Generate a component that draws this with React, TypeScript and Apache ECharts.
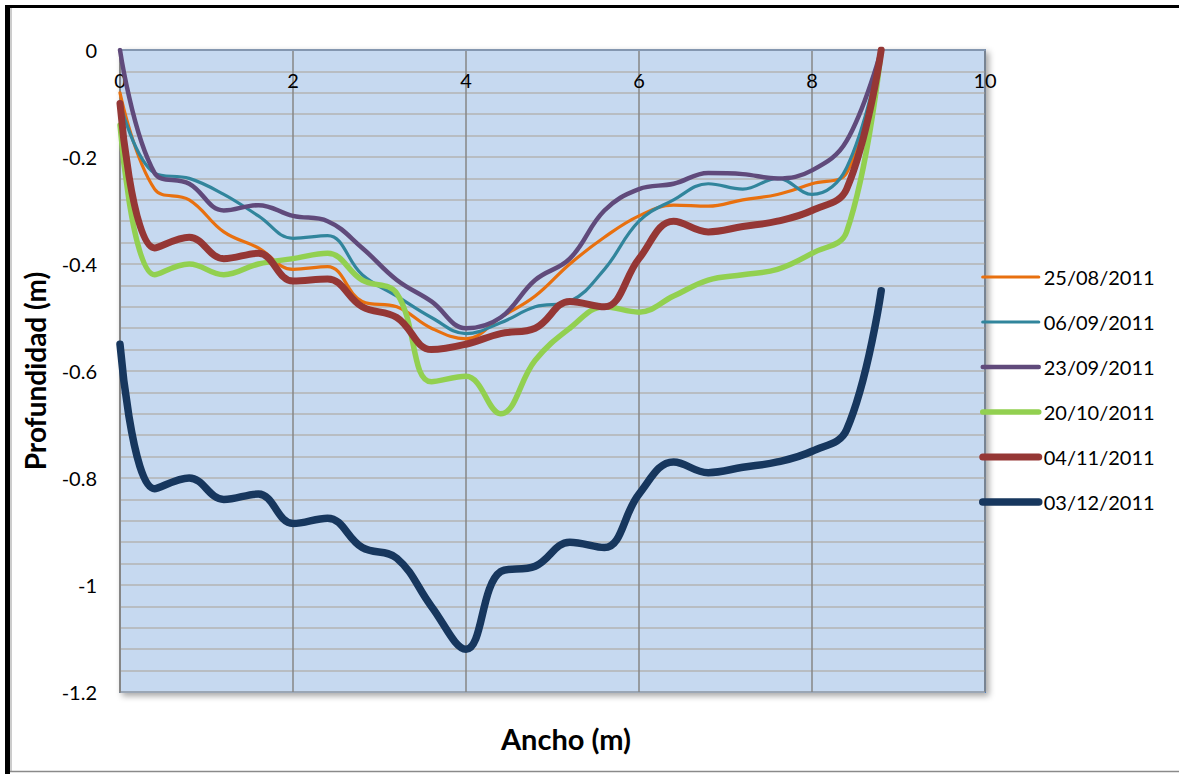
import React, { useEffect, useRef } from "react";
import * as echarts from "echarts";

// Distance across the channel (m)
const anchos = [0, 0.4, 0.8, 1.2, 1.6, 2.0, 2.4, 2.8, 3.2, 3.6, 4.0, 4.4, 4.8, 5.2, 5.6, 6.0, 6.4, 6.8, 7.2, 7.6, 8.0, 8.4, 8.8];

// Depth profiles (m) per survey date
const fechas = ["25/08/2011", "06/09/2011", "23/09/2011", "20/10/2011", "04/11/2011", "03/12/2011"];

const prof_25_08 = [-0.08, -0.26, -0.28, -0.34, -0.37, -0.41, -0.405, -0.47, -0.48, -0.52, -0.54, -0.5, -0.46, -0.4, -0.35, -0.31, -0.29, -0.292, -0.28, -0.27, -0.25, -0.23, 0];
const prof_06_09 = [-0.1, -0.23, -0.24, -0.27, -0.31, -0.352, -0.347, -0.42, -0.46, -0.5, -0.53, -0.51, -0.48, -0.47, -0.41, -0.32, -0.28, -0.25, -0.26, -0.24, -0.27, -0.22, 0];
const prof_23_09 = [0, -0.23, -0.25, -0.3, -0.29, -0.31, -0.32, -0.37, -0.43, -0.47, -0.52, -0.5, -0.43, -0.39, -0.3, -0.26, -0.25, -0.23, -0.232, -0.24, -0.225, -0.17, 0];
const prof_20_10 = [-0.14, -0.42, -0.4, -0.42, -0.4, -0.39, -0.38, -0.43, -0.455, -0.62, -0.61, -0.68, -0.58, -0.52, -0.48, -0.49, -0.46, -0.43, -0.42, -0.41, -0.38, -0.34, 0];
const prof_04_11 = [-0.1, -0.37, -0.35, -0.39, -0.38, -0.432, -0.428, -0.48, -0.5, -0.56, -0.55, -0.53, -0.52, -0.47, -0.48, -0.39, -0.32, -0.34, -0.33, -0.32, -0.3, -0.26, 0];
const prof_03_12 = [-0.55, -0.82, -0.8, -0.84, -0.83, -0.885, -0.875, -0.93, -0.95, -1.04, -1.12, -0.975, -0.965, -0.92, -0.93, -0.83, -0.77, -0.79, -0.78, -0.77, -0.75, -0.71, -0.45];

const perfiles = [prof_25_08, prof_06_09, prof_23_09, prof_20_10, prof_04_11, prof_03_12];
const colores = ["#e8700f", "#31859c", "#604a7b", "#92d050", "#953735", "#17375e"];
const grosores = [3.2, 3.2, 4.5, 5.5, 7, 7.5];

const FONT = "Lato, 'Open Sans', sans-serif";

export default function App() {
  const ref = useRef<HTMLDivElement>(null);

  useEffect(() => {
    if (!ref.current) return;
    const chart = echarts.init(ref.current, undefined, { renderer: "svg" });

    const series = perfiles.map((p, i) => ({
      name: fechas[i],
      type: "line",
      data: anchos.map((x, j) => [x, p[j]]),
      smooth: 0.4,
      symbol: "none",
      lineStyle: { color: colores[i], width: grosores[i], cap: "round", join: "round" },
      itemStyle: { color: colores[i] },
      z: 3 + i,
    }));

    chart.setOption({
      animation: false,
      backgroundColor: "#ffffff",
      grid: {
        left: 120,
        top: 50,
        right: 194,
        bottom: 82,
        show: true,
        backgroundColor: "#c6d9f0",
        borderColor: "#4f81bd",
        borderWidth: 2,
        shadowBlur: 6,
        shadowColor: "rgba(0,0,0,0.35)",
        shadowOffsetX: 3,
        shadowOffsetY: 3,
      },
      legend: {
        orient: "vertical",
        left: 974,
        top: 262,
        itemWidth: 56,
        itemHeight: 14,
        itemGap: 25,
        itemStyle: { opacity: 0 },
        lineStyle: { width: "inherit", cap: "round" },
        textStyle: { fontFamily: FONT, fontSize: 20, color: "#000" },
        data: fechas,
      },
      xAxis: {
        type: "value",
        position: "top",
        min: 0,
        max: 10,
        interval: 2,
        axisLine: { show: true, onZero: false, lineStyle: { color: "#8497b0", width: 2 } },
        axisTick: { show: false },
        axisLabel: { inside: true, margin: 20, fontFamily: FONT, fontSize: 20, color: "#000" },
        splitLine: { show: true, lineStyle: { color: "#868686", width: 1.5 } },
      },
      yAxis: {
        type: "value",
        min: -1.2,
        max: 0,
        interval: 0.2,
        axisLine: { show: true, onZero: false, lineStyle: { color: "#868686", width: 2 } },
        axisTick: { show: false },
        axisLabel: { margin: 23, fontFamily: FONT, fontSize: 20, color: "#000" },
        splitLine: { show: true, lineStyle: { color: "#b3b3b3", width: 1.5 } },
        minorTick: { show: false, splitNumber: 5 },
        minorSplitLine: { show: true, lineStyle: { color: "#b3b3b3", width: 1.5 } },
      },
      graphic: [
        { type: "rect", shape: { x: 5, y: 5, width: 1174, height: 3 }, style: { fill: "#000" } },
        { type: "rect", shape: { x: 5, y: 5, width: 5, height: 769 }, style: { fill: "#000" } },
        { type: "line", shape: { x1: 11, y1: 8, x2: 11, y2: 771 }, style: { stroke: "#9a9a9a", lineWidth: 1 } },
        { type: "line", shape: { x1: 10, y1: 771.5, x2: 1179, y2: 771.5 }, style: { stroke: "#8a8a8a", lineWidth: 1.5 } },
        {
          type: "text",
          x: 35,
          y: 371,
          rotation: Math.PI / 2,
          style: {
            text: "Profundidad (m)",
            fontFamily: FONT,
            fontWeight: "bold",
            fontSize: 28,
            fill: "#000",
            align: "center",
            verticalAlign: "middle",
          },
        },
        {
          type: "text",
          x: 566,
          y: 738,
          style: {
            text: "Ancho (m)",
            fontFamily: FONT,
            fontWeight: "bold",
            fontSize: 29,
            fill: "#000",
            align: "center",
            verticalAlign: "middle",
          },
        },
      ],
      series,
    });

    return () => chart.dispose();
  }, []);

  return (
    <div
      ref={ref}
      style={{ position: "fixed", left: 0, top: 0, width: 1179, height: 774, background: "#fff" }}
    />
  );
}
